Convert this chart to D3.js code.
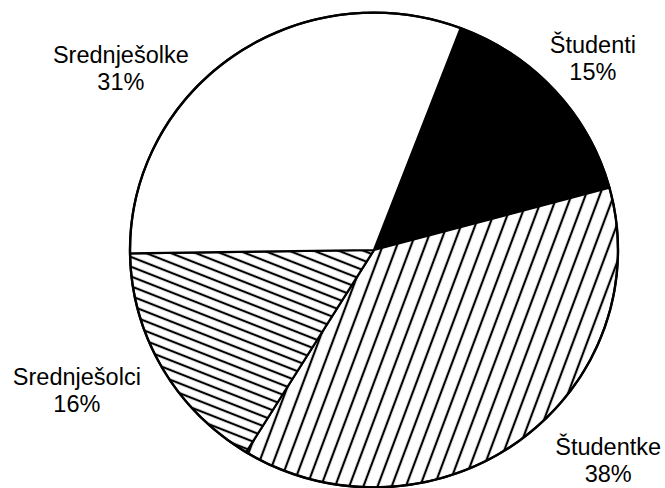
<!DOCTYPE html>
<html>
<head>
<meta charset="utf-8">
<script src="https://cdn.jsdelivr.net/npm/d3@7"></script>
<style>
  html, body { margin: 0; padding: 0; background: #fff; }
  svg { display: block; }
  text { font-family: "Liberation Sans", Arial, Helvetica, sans-serif; fill: #000; }
</style>
</head>
<body>
<svg id="chart" width="665" height="488"></svg>
<script>
// Share of each group (percent), drawn clockwise
const categories = ["Študenti", "Študentke", "Srednješolci", "Srednješolke"];
const shares = [15, 38, 16, 31];
const shareLabels = ["15%", "38%", "16%", "31%"];

// Fill style for each slice
const fills = ["#000", "url(#hatch-steep)", "url(#hatch-shallow)", "#fff"];

// Label anchor placement around the pie (degrees clockwise from 12 o'clock, distance in px)
const labelAngles = [50.0, 133.0, 243.4, 304.4];
const labelRadii = [285.7, 320.2, 332.3, 306.8];

const width = 665, height = 488;
const cx = 374, cy = 250;
const radius = 244;
const yScale = 0.973;          // slight vertical squash of the disc
const startDeg = 20.8;
const fontSize = 23.5, lineGap = 27;

const svg = d3.select("#chart");
svg.append("rect").attr("width", width).attr("height", height).attr("fill", "#fff");

// Hatch patterns
const defs = svg.append("defs");
function hatch(id, spacing, angle, horizontal) {
  const p = defs.append("pattern")
    .attr("id", id)
    .attr("patternUnits", "userSpaceOnUse")
    .attr("width", spacing)
    .attr("height", spacing)
    .attr("patternTransform", `rotate(${angle})`);
  p.append("rect").attr("width", spacing).attr("height", spacing).attr("fill", "#fff");
  if (horizontal) {
    p.append("line").attr("x1", -1).attr("x2", spacing + 1)
      .attr("y1", spacing / 2).attr("y2", spacing / 2)
      .attr("stroke", "#000").attr("stroke-width", 2.2);
  } else {
    p.append("line").attr("y1", -1).attr("y2", spacing + 1)
      .attr("x1", spacing / 2).attr("x2", spacing / 2)
      .attr("stroke", "#000").attr("stroke-width", 2.2);
  }
}
hatch("hatch-steep", 13.3, 20, false);   // "/" lines
hatch("hatch-shallow", 9.3, 22, true);   // "\" lines

const pie = d3.pie()
  .sort(null)
  .value(d => d)
  .startAngle(startDeg * Math.PI / 180)
  .endAngle(startDeg * Math.PI / 180 + 2 * Math.PI);

const arc = d3.arc().innerRadius(0).outerRadius(radius);

const g = svg.append("g")
  .attr("transform", `translate(${cx},${cy}) scale(1,${yScale})`);

g.selectAll("path.slice")
  .data(pie(shares))
  .join("path")
  .attr("class", "slice")
  .attr("d", arc)
  .attr("fill", (d, i) => fills[i])
  .attr("stroke", "#000")
  .attr("stroke-width", 2.2)
  .attr("stroke-linejoin", "round")
  .attr("vector-effect", "non-scaling-stroke");

// Outer rim
g.append("circle")
  .attr("r", radius)
  .attr("fill", "none")
  .attr("stroke", "#000")
  .attr("stroke-width", 2.4)
  .attr("vector-effect", "non-scaling-stroke");

// Labels
const labels = svg.append("g")
  .attr("font-size", fontSize)
  .attr("text-anchor", "middle");

categories.forEach((name, i) => {
  const a = labelAngles[i] * Math.PI / 180;
  const x = cx + labelRadii[i] * Math.sin(a);
  const y = cy - labelRadii[i] * Math.cos(a);
  const t = labels.append("text").attr("x", x).attr("y", y - lineGap / 2);
  t.append("tspan").attr("x", x).text(name);
  t.append("tspan").attr("x", x).attr("dy", lineGap).text(shareLabels[i]);
});
</script>
</body>
</html>
